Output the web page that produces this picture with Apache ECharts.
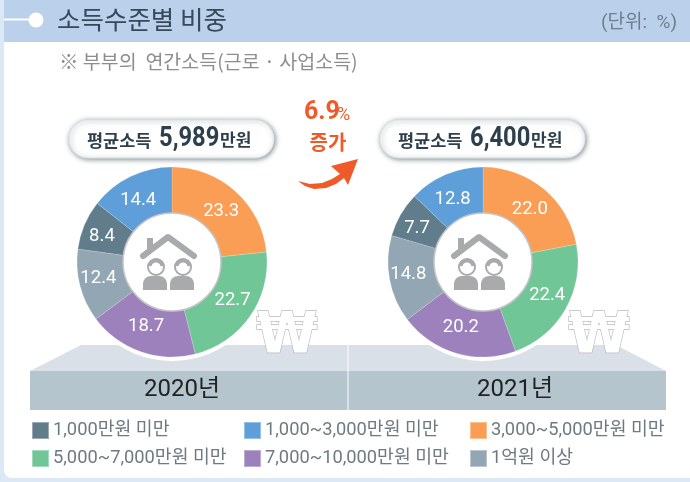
<!DOCTYPE html>
<html><head><meta charset="utf-8">
<style>html,body{margin:0;padding:0;background:#fff}#c{width:690px;height:482px}</style>
<script src="https://cdn.jsdelivr.net/npm/echarts@6/dist/echarts.min.js"></script>
</head><body><div id="c"></div>
<script>
const categories=['1,000만원 미만','1,000~3,000만원 미만','3,000~5,000만원 미만','5,000~7,000만원 미만','7,000~10,000만원 미만','1억원 이상'];
const colors=['#617d8b','#5f9fd9','#fa9d55','#71c697','#9c81bc','#92a7b3'];
const values2020=[8.4,14.4,23.3,22.7,18.7,12.4];
const values2021=[7.7,12.8,22.0,22.4,20.2,14.8];
const sliceOrder=[2,3,4,5,0,1];
const years=['2020년','2021년'];
const averages=['5,989','6,400'];
const KR='"Noto Sans CJK KR","Noto Sans",sans-serif';
const NARROW='Roboto,"Noto Sans CJK KR",sans-serif';
const chart=echarts.init(document.getElementById('c'),null,{renderer:'canvas'});
function pieData(v){return sliceOrder.map(i=>({name:categories[i],value:v[i],itemStyle:{color:colors[i]}}));}
function pie(v,cx){return {type:'pie',center:[cx,262],radius:[49,95],startAngle:90,clockwise:true,z:5,
 silent:true,animation:false,data:pieData(v),
 itemStyle:{borderColor:'rgba(255,255,255,0.35)',borderWidth:0.5},
 label:{show:true,position:'inside',formatter:p=>p.value.toFixed(1),color:'#fff',fontFamily:NARROW,fontSize:18.5},labelLine:{show:false},
 labelLayout:p=>({dx:-1,dy:(262-(p.rect.y+p.rect.height/2))*0.1})};}
const legendPos=[[31,421],[243,421],[469,421],[31,449],[243,449],[469,449]];
const legends=categories.map((c,i)=>({data:[c],left:legendPos[i][0],top:legendPos[i][1],orient:'horizontal',padding:0,
 icon:'rect',itemWidth:17,itemHeight:17,itemGap:0,selectedMode:false,
 textStyle:{color:'#6f7a80',fontFamily:NARROW,fontSize:18.3,padding:[0,0,0,-1]}}));
function house(cx){const dx=cx-172,G='#a9aaac';
 const head=(x)=>[
  {type:'circle',shape:{cx:x,cy:267,r:8},style:{fill:'#fff',stroke:G,lineWidth:2},z:8},
  {type:'sector',shape:{cx:x,cy:267,r:8.5,r0:4.5,startAngle:Math.PI*1.05,endAngle:Math.PI*1.95},style:{fill:G},z:8}];
 return {type:'group',x:dx,y:0,z:8,children:[
  {type:'polygon',shape:{points:[[147,238],[153,238],[153,246],[147,252]]},style:{fill:G},z:8},
  {type:'polyline',shape:{points:[[143,256],[168,237],[194,256]]},style:{stroke:G,lineWidth:6,lineCap:'round',lineJoin:'round',fill:null},z:8},
  ...head(156),...head(183),
  {type:'rect',shape:{x:143,y:276,width:24,height:14,r:[8,8,0,0]},style:{fill:G},z:8},
  {type:'rect',shape:{x:170,y:276,width:24,height:14,r:[8,8,0,0]},style:{fill:G},z:8}
 ]};}
const PILLINK='#2d3f4c';
function pill(x,i){return [
 {type:'rect',shape:{x:x,y:120,width:205,height:38,r:19},z:6,style:{fill:'#fff',stroke:'#dfe4e8',lineWidth:1,shadowBlur:5,shadowColor:'rgba(60,80,90,.65)',shadowOffsetX:1,shadowOffsetY:1}},
 {type:'text',x:x+18,y:140,z:7,style:{text:'평균소득',verticalAlign:'middle',fontFamily:KR,fontWeight:'bold',fontSize:17.5,fill:PILLINK}},
 {type:'text',x:x+90,y:139,z:7,scaleX:0.88,style:{text:averages[i],verticalAlign:'middle',fontFamily:'Roboto',fontWeight:'bold',fontSize:27,fill:PILLINK}},
 {type:'text',x:x+151,y:140,z:7,style:{text:'만원',verticalAlign:'middle',fontFamily:KR,fontWeight:'bold',fontSize:17,fill:PILLINK}}
];}
function won(x){return {type:'text',x:x,y:338,z:9,scaleX:0.87,scaleY:0.9,style:{text:'₩',align:'center',verticalAlign:'middle',fontFamily:'"DejaVu Sans"',fontWeight:'bold',fontSize:64,fill:'#fff',stroke:'#b9bcc0',lineWidth:1.5}};}
const graphics=[
 {type:'rect',shape:{x:0,y:0,width:690,height:482},style:{fill:'#dde8f7'},z:0},
 {type:'rect',shape:{x:4,y:0,width:690,height:478,r:[0,0,0,8]},style:{fill:'#fff'},z:0},
 {type:'rect',shape:{x:4,y:0,width:686,height:42},style:{fill:'#bbd0ea'},z:1},
 {type:'line',shape:{x1:4,y1:19.5,x2:32,y2:19.5},style:{stroke:'#fff',lineWidth:2},z:2},
 {type:'circle',shape:{cx:36,cy:20,r:7.5},style:{fill:'#fff'},z:2},
 {type:'text',x:57,y:19,z:2,style:{text:'소득수준별 비중',fontFamily:KR,fontSize:25.5,fill:'#35495a',verticalAlign:'middle'}},
 {type:'text',x:677,y:23,z:2,style:{text:'(단위:  %)',align:'right',verticalAlign:'middle',fontFamily:NARROW,fontSize:19,fill:'#6f7e8c'}},
 {type:'text',x:59,y:62,z:2,style:{text:'※ 부부의  연간소득(근로 · 사업소득)',verticalAlign:'middle',fontFamily:KR,fontSize:19.5,fill:'#8d8d8d'}},
 {type:'polygon',shape:{points:[[30,371],[81,345],[616,345],[666,371]]},style:{fill:'#d9e0e7'},z:1},
 {type:'rect',shape:{x:30,y:371,width:636,height:39},style:{fill:'#b4c5ce'},z:1},
 {type:'line',shape:{x1:348,y1:345,x2:348,y2:410},style:{stroke:'#fff',lineWidth:1},z:2},
 {type:'circle',shape:{cx:172,cy:262,r:99},style:{fill:'#fff'},z:3},
 {type:'circle',shape:{cx:483,cy:262,r:99},style:{fill:'#fff'},z:3},
 {type:'circle',shape:{cx:172,cy:262,r:49},style:{fill:'#fff',stroke:'#c4c4c4',lineWidth:1.5},z:7},
 {type:'circle',shape:{cx:483,cy:262,r:49},style:{fill:'#fff',stroke:'#c4c4c4',lineWidth:1.5},z:7},
 house(172),house(483),
 ...pill(69,0),...pill(380,1),
 won(287),won(599),
 {type:'text',x:182,y:390,z:3,style:{text:years[0],align:'center',verticalAlign:'middle',fontFamily:NARROW,fontSize:24,fill:'#222'}},
 {type:'text',x:515,y:390,z:3,style:{text:years[1],align:'center',verticalAlign:'middle',fontFamily:NARROW,fontSize:24,fill:'#222'}},
 {type:'text',x:304,y:113,z:3,style:{text:'6.9',verticalAlign:'middle',fontFamily:'Roboto',fontWeight:'bold',fontSize:25,fill:'#f05a28'}},
 {type:'text',x:337,y:115,z:3,style:{text:'%',verticalAlign:'middle',fontFamily:'Roboto',fontSize:18,fill:'#f05a28'}},
 {type:'text',x:328,y:142,z:3,style:{text:'증가',align:'center',verticalAlign:'middle',fontFamily:KR,fontWeight:'bold',fontSize:20,fill:'#f05a28'}},
 {type:'polygon',z:3,shape:{points:[[298,181],[310,184],[322,183],[332,179],[340,174],[331,166],[358,159],[348,185],[344,178],[336,184],[326,188],[314,189],[305,186]]},style:{fill:'#f05a28'}}
];
chart.setOption({animation:false,legend:legends,series:[pie(values2020,172),pie(values2021,483)],graphic:{elements:graphics}});
</script></body></html>
